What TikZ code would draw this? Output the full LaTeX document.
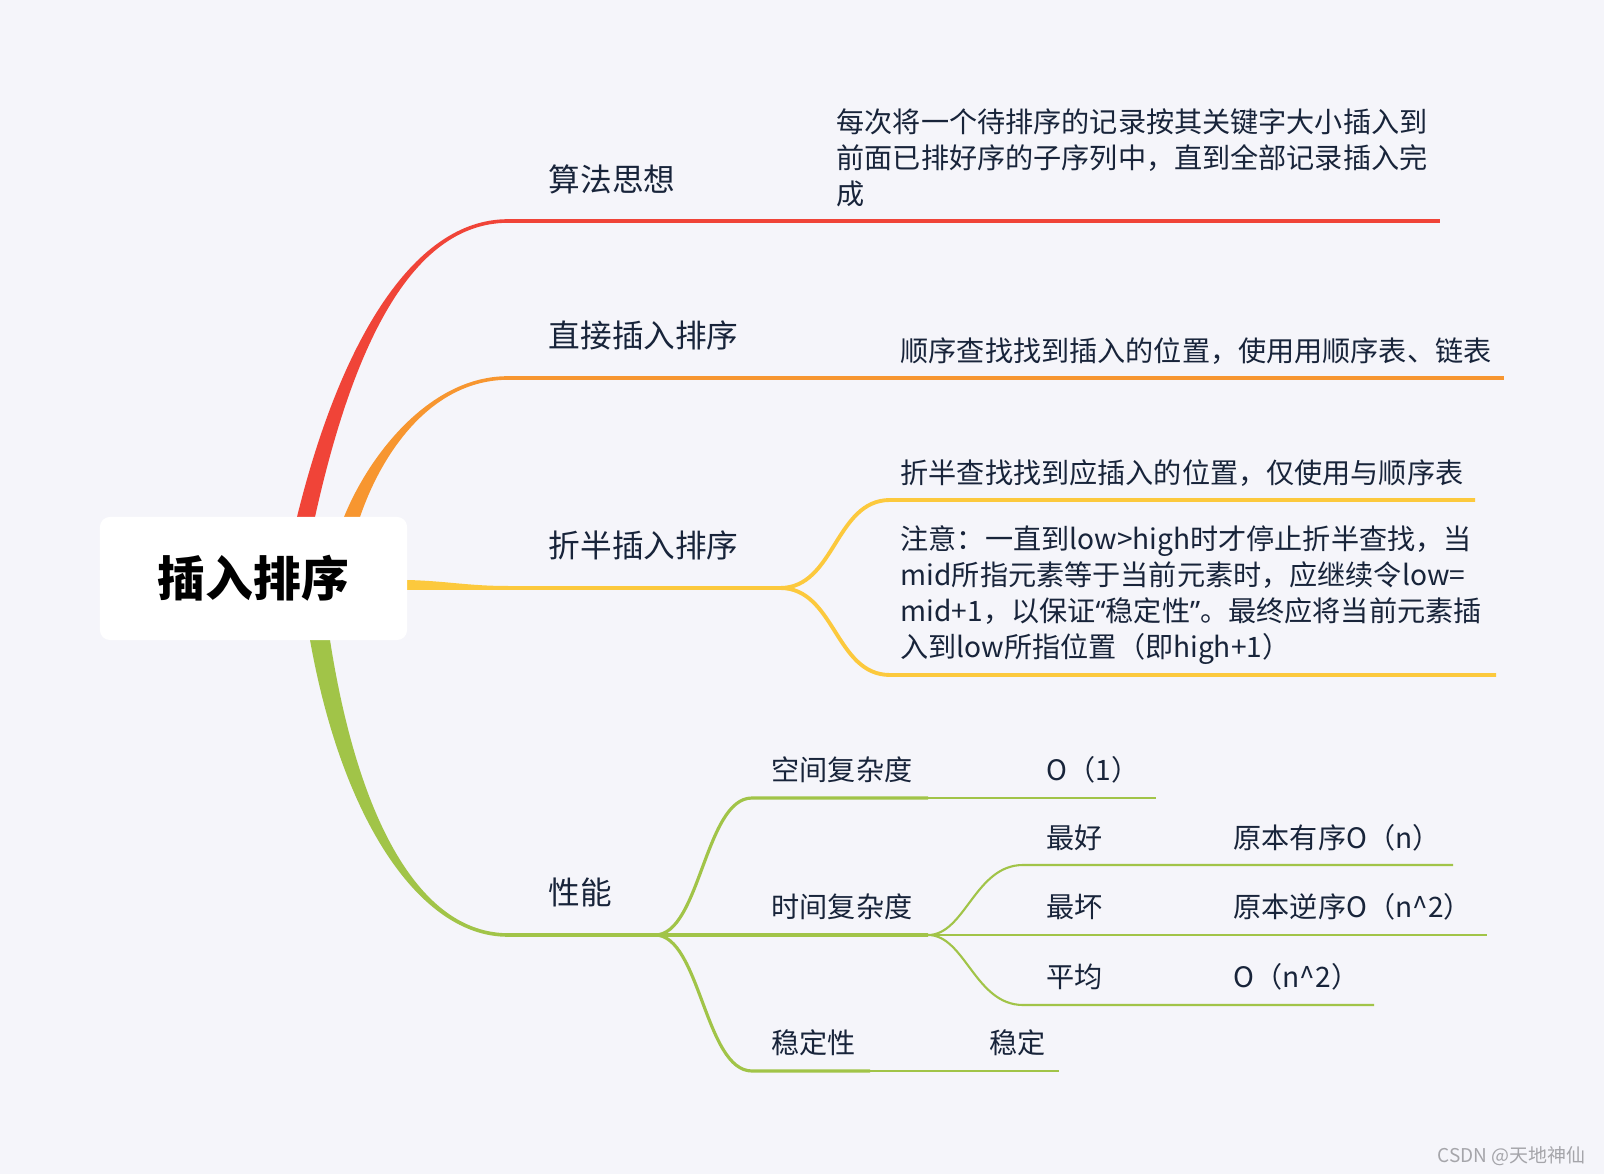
\documentclass[tikz,border=0pt]{standalone}
\usepackage{fontspec}
\setmainfont{Noto Sans CJK SC}
\newfontfamily\quotefont{Noto Sans}
\usetikzlibrary{calc}
\definecolor{bgcol}{RGB}{245,245,250}
\definecolor{ink}{RGB}{24,36,58}
\definecolor{brRed}{RGB}{240,68,56}
\definecolor{brOrange}{RGB}{247,150,48}
\definecolor{brYellow}{RGB}{252,201,61}
\definecolor{brGreen}{RGB}{161,196,72}
\definecolor{wmark}{RGB}{165,165,170}
\begin{document}
\begin{tikzpicture}[x=0.01cm,y=-0.01cm,
 topic/.style={text=ink,inner sep=0pt,anchor=west,font=\fontsize{9}{11}\selectfont},
 leaf/.style={text=ink,inner sep=0pt,anchor=west,align=left,font=\fontsize{8}{10.2}\selectfont},
 rootbox/.style={fill=white,rounded corners=0.1cm,minimum width=3.07cm,minimum height=1.23cm,inner sep=0pt,text=black,font=\fontsize{13.6}{16}\selectfont\bfseries},
 mainline/.style={line width=1pt},subline/.style={line width=1.1pt},
 greenthick/.style={draw=brGreen,line width=0.9pt},greenthin/.style={draw=brGreen,line width=0.6pt}]
\fill[bgcol] (0,0) rectangle (1604,1174); \useasboundingbox (0,0) rectangle (1604,1174);
\coordinate (r0) at (306,517); \coordinate (r1) at (345,350); \coordinate (r2) at (410,221); \coordinate (r3) at (508,221); \coordinate (rE) at (1440,221);
\coordinate (o0) at (352,517); \coordinate (o1) at (375,455); \coordinate (o2) at (430,378); \coordinate (o3) at (508,378); \coordinate (oE) at (1504,378);
\coordinate (y0) at (407,585); \coordinate (y3) at (508,588); \coordinate (ys) at (780,588); \coordinate (yu) at (890,500); \coordinate (yuE) at (1475,500); \coordinate (yl) at (890,675); \coordinate (ylE) at (1496,675);
\coordinate (g0) at (320,640); \coordinate (g1) at (350,820); \coordinate (g2) at (420,935); \coordinate (g3) at (508,935); \coordinate (gs) at (655,935);
\coordinate (sp) at (752,798); \coordinate (spM) at (928,798); \coordinate (spE) at (1156,798);
\coordinate (tM) at (928,935); \coordinate (bst) at (1023,865); \coordinate (bstE) at (1453,865); \coordinate (wstE) at (1487,935); \coordinate (avg) at (1023,1005); \coordinate (avgE) at (1374,1005);
\coordinate (st) at (752,1071); \coordinate (stM) at (870,1071); \coordinate (stE) at (1059,1071);
\fill[brRed] ($(r0)+(-9,12)$) -- ($(r0)+(-9,0)$) .. controls ($(r1)+(-7,0)$) and ($(r2)+(0,-2)$) .. ($(r3)+(0,-1.8)$) -- ($(r3)+(0,1.8)$) .. controls ($(r2)+(0,2)$) and ($(r1)+(7,0)$) .. ($(r0)+(9,0)$) -- ($(r0)+(9,12)$) -- cycle;
\fill[brOrange] ($(o0)+(-8,12)$) -- ($(o0)+(-8,0)$) .. controls ($(o1)+(-6,0)$) and ($(o2)+(0,-2)$) .. ($(o3)+(0,-1.8)$) -- ($(o3)+(0,1.8)$) .. controls ($(o2)+(0,2)$) and ($(o1)+(6,0)$) .. ($(o0)+(8,0)$) -- ($(o0)+(8,12)$) -- cycle;
\fill[brYellow] ($(y0)+(-10,-5)$) -- ($(y0)+(0,-5)$) .. controls ($(y0)+(40,-4)$) and ($(y3)+(-40,-2)$) .. ($(y3)+(0,-2)$) -- ($(y3)+(0,2)$) .. controls ($(y3)+(-40,2)$) and ($(y0)+(40,5)$) .. ($(y0)+(0,5)$) -- ($(y0)+(-10,5)$) -- cycle;
\fill[brGreen] ($(g0)+(-10,-12)$) -- ($(g0)+(-10,0)$) .. controls ($(g1)+(-8,0)$) and ($(g2)+(0,2)$) .. ($(g3)+(0,1.8)$) -- ($(g3)+(0,-1.8)$) .. controls ($(g2)+(0,-2)$) and ($(g1)+(8,0)$) .. ($(g0)+(10,0)$) -- ($(g0)+(10,-12)$) -- cycle;
\draw[mainline,brRed] (r3) -- (rE); \draw[mainline,brOrange] (o3) -- (oE);
\draw[subline,brYellow] (y3) -- (ys); \draw[subline,brYellow] (ys) .. controls (835,588) and (835,500) .. (yu) -- (yuE); \draw[subline,brYellow] (ys) .. controls (835,588) and (835,675) .. (yl) -- (ylE);
\draw[greenthick] (g3) -- (gs) -- (tM); \draw[greenthick] (gs) .. controls (700,935) and (705,798) .. (sp) -- (spM); \draw[greenthin] (spM) -- (spE);
\draw[greenthick] (gs) .. controls (700,935) and (705,1071) .. (st) -- (stM); \draw[greenthin] (stM) -- (stE);
\draw[greenthin] (tM) .. controls (965,935) and (975,865) .. (bst) -- (bstE); \draw[greenthin] (tM) -- (wstE); \draw[greenthin] (tM) .. controls (965,935) and (975,1005) .. (avg) -- (avgE);
\node[rootbox] (root) at (253.5,578.5) {插入排序};
\node[topic] (algo) at (548,179) {算法思想};
\node[topic] (direct) at (548,335) {直接插入排序};
\node[topic] (binary) at (548,545) {折半插入排序};
\node[topic] (perf) at (548,892) {性能};
\node[leaf] (algoText) at (836,158) {每次将一个待排序的记录按其关键字大小插入到\\前面已排好序的子序列中，直到全部记录插入完\\成};
\node[leaf] (directText) at (900,351) {顺序查找找到插入的位置，使用用顺序表、链表};
\node[leaf] (binaryText) at (900,473) {折半查找找到应插入的位置，仅使用与顺序表};
\node[leaf] (binaryNote) at (900,595) {注意：一直到low>high时才停止折半查找，当\\mid所指元素等于当前元素时，应继续令low=\\mid+1，以保证{\quotefont “}稳定性{\quotefont ”}。最终应将当前元素插\\入到low所指位置（即high+1）};
\node[leaf] (space) at (771,770) {空间复杂度}; \node[leaf] (spaceVal) at (1046,770) {O（1）};
\node[leaf] (time) at (771,907) {时间复杂度};
\node[leaf] (best) at (1046,838) {最好}; \node[leaf] (bestVal) at (1233,838) {原本有序O（n）};
\node[leaf] (worst) at (1046,907) {最坏}; \node[leaf] (worstVal) at (1233,907) {原本逆序O（n\textasciicircum{}2）};
\node[leaf] (mean) at (1046,977) {平均}; \node[leaf] (meanVal) at (1233,977) {O（n\textasciicircum{}2）};
\node[leaf] (stab) at (771,1043) {稳定性}; \node[leaf] (stabVal) at (989,1043) {稳定};
\node[anchor=west,inner sep=0pt,text=wmark,font=\fontsize{5.4}{6}\selectfont] (mark) at (1437,1156) {CSDN @天地神仙};
\end{tikzpicture}
\end{document}
